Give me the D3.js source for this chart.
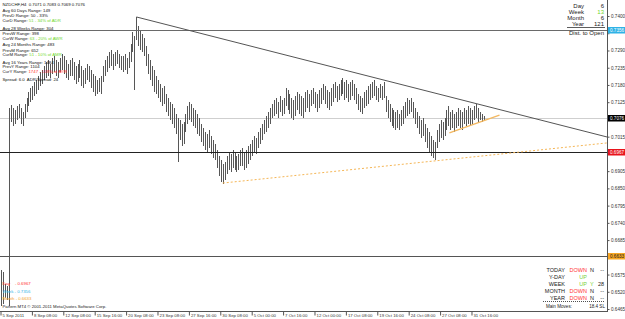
<!DOCTYPE html>
<html>
<head>
<meta charset="utf-8">
<script src="https://cdn.jsdelivr.net/npm/d3@7"></script>
<style>
body { margin: 0; background: #fff; }
text { font-family: "Liberation Sans", Arial, sans-serif; }
</style>
</head>
<body>
<svg id="chart" width="625" height="319"></svg>
<script>
// H4 bars, high / low per bar (NZDCHF, 5 Sep - 31 Oct 2011)
var highs = [
  0.6590,0.6583,0.6545,0.6539,0.7106,
  0.7116,0.7106,0.7100,0.7113,0.7119,0.7106,0.7094,0.7119,
  0.7138,0.7158,0.7170,0.7177,0.7189,
  0.7196,0.7209,0.7221,0.7228,0.7240,0.7253,0.7260,0.7247,
  0.7266,0.7272,0.7260,0.7253,0.7266,0.7279,0.7272,0.7260,0.7247,0.7260,
  0.7266,0.7253,0.7240,0.7247,0.7260,0.7240,0.7228,0.7234,0.7247,0.7240,
  0.7228,0.7215,0.7209,0.7196,0.7202,0.7209,
  0.7240,0.7260,0.7272,0.7285,0.7291,0.7279,0.7285,0.7291,0.7279,0.7272,
  0.7272,0.7279,0.7266,0.7285,0.7311,
  0.7349,0.7336,
  0.7397,
  0.7368,0.7355,0.7343,0.7330,
  0.7304,0.7279,0.7260,0.7240,0.7228,
  0.7209,0.7196,0.7183,0.7170,0.7177,
  0.7151,0.7138,0.7126,0.7119,0.7106,
  0.7087,0.7075,0.7068,0.7055,0.7062,
  0.7087,0.7113,0.7126,0.7119,0.7106,0.7100,0.7087,0.7075,
  0.7055,0.7043,0.7030,0.7024,0.7036,0.7017,0.7004,0.6992,
  0.6972,0.6953,0.6941,0.6928,0.6934,
  0.6953,0.6966,0.6960,0.6972,0.6966,0.6953,0.6960,0.6972,
  0.6979,0.6966,0.6972,0.6985,0.6992,
  0.7004,0.7017,0.7011,0.7030,0.7043,
  0.7055,0.7068,0.7081,0.7094,0.7106,
  0.7119,0.7132,0.7138,0.7126,0.7145,0.7132,0.7138,
  0.7170,0.7164,0.7151,0.7138,0.7132,0.7145,0.7158,0.7151,
  0.7145,0.7138,0.7158,0.7164,0.7151,0.7164,0.7170,0.7158,0.7151,0.7164,
  0.7170,0.7183,0.7177,0.7164,0.7158,0.7170,0.7183,0.7189,0.7177,0.7183,
  0.7196,0.7202,0.7189,0.7196,0.7183,0.7189,
  0.7196,0.7183,0.7170,
  0.7151,0.7145,0.7138,0.7158,
  0.7164,0.7177,0.7183,0.7189,0.7196,
  0.7177,0.7170,0.7183,0.7177,0.7189,
  0.7145,0.7132,0.7119,0.7106,0.7100,
  0.7094,0.7100,0.7087,0.7100,0.7113,
  0.7126,0.7138,0.7132,0.7138,0.7126,
  0.7106,0.7094,0.7081,0.7068,0.7075,
  0.7055,0.7043,0.7030,0.7017,0.7004,0.6998,
  0.7036,0.7055,0.7068,0.7062,0.7075,
  0.7100,0.7113,
  0.7094,0.7100,0.7087,0.7094,0.7106,0.7100,0.7094,0.7106,0.7100,0.7113,0.7106,0.7100,
  0.7113,0.7119,0.7106,
  0.7094,0.7087,0.7081
];
var lows = [
  0.6475,0.6481,0.6500,0.6494,0.6475,
  0.7062,0.7049,0.7055,0.7068,0.7075,0.7055,0.7049,0.7075,
  0.7094,0.7113,0.7126,0.7132,0.7145,
  0.7151,0.7164,0.7177,0.7183,0.7196,0.7202,0.7209,0.7202,
  0.7215,0.7221,0.7209,0.7202,0.7221,0.7228,0.7215,0.7202,0.7196,0.7209,
  0.7209,0.7196,0.7183,0.7189,0.7202,0.7177,0.7170,0.7183,0.7196,0.7189,
  0.7170,0.7158,0.7145,0.7151,0.7158,0.7151,
  0.7189,0.7209,0.7221,0.7234,0.7240,0.7228,0.7240,0.7247,0.7234,0.7228,
  0.7221,0.7228,0.7215,0.7234,0.7253,
  0.7285,0.7164,
  0.7323,
  0.7304,0.7291,0.7285,0.7272,
  0.7240,0.7215,0.7196,0.7177,0.7158,
  0.7151,0.7138,0.7126,0.7113,0.7119,
  0.7094,0.7081,0.7068,0.7055,0.7043,
  0.7024,0.6934,0.7004,0.6985,0.6992,
  0.7030,0.7055,0.7068,0.7062,0.7049,0.7043,0.7024,0.7017,
  0.6998,0.6985,0.6972,0.6966,0.6979,0.6960,0.6947,0.6941,
  0.6915,0.6890,0.6870,0.6864,0.6877,
  0.6896,0.6909,0.6902,0.6915,0.6909,0.6902,0.6909,0.6921,
  0.6921,0.6909,0.6915,0.6928,0.6941,
  0.6953,0.6966,0.6960,0.6979,0.6992,
  0.7004,0.7024,0.7030,0.7043,0.7055,
  0.7075,0.7081,0.7087,0.7075,0.7094,0.7081,0.7087,
  0.7113,0.7100,0.7087,0.7075,0.7068,0.7081,0.7100,0.7087,
  0.7081,0.7075,0.7094,0.7106,0.7094,0.7113,0.7119,0.7106,0.7094,0.7106,
  0.7119,0.7132,0.7119,0.7106,0.7100,0.7113,0.7126,0.7138,0.7126,0.7132,
  0.7145,0.7151,0.7132,0.7138,0.7126,0.7132,
  0.7145,0.7132,0.7119,
  0.7100,0.7094,0.7087,0.7106,
  0.7113,0.7119,0.7132,0.7138,0.7145,
  0.7132,0.7126,0.7138,0.7132,0.7138,
  0.7094,0.7075,0.7062,0.7049,0.7043,
  0.7036,0.7043,0.7036,0.7049,0.7055,
  0.7075,0.7081,0.7087,0.7094,0.7075,
  0.7055,0.7043,0.7024,0.7011,0.7017,
  0.6998,0.6979,0.6966,0.6953,0.6947,0.6941,
  0.6979,0.6998,0.7011,0.7004,0.7017,
  0.7036,0.7049,
  0.7036,0.7043,0.7030,0.7043,0.7049,0.7043,0.7036,0.7055,0.7049,0.7055,0.7049,0.7055,
  0.7068,0.7075,0.7062,
  0.7068,0.7062,0.7068
];
var lastClose = 0.7076;

var tickIndex = [0,16,32,48,64,80,96,112,128,144,160,176,192,208,224,240];
var tickLabels = ['5 Sep 2011','8 Sep 08:00','12 Sep 08:00','15 Sep 16:00','20 Sep 08:00',
  '23 Sep 08:00','27 Sep 16:00','30 Sep 08:00','5 Oct 00:00','7 Oct 16:00','12 Oct 00:00',
  '17 Oct 08:00','19 Oct 16:00','24 Oct 08:00','27 Oct 08:00','31 Oct 16:00'];
var priceTicks = [0.7400,0.7345,0.7290,0.7235,0.7180,0.7125,0.7070,0.7015,0.6960,
  0.6905,0.6850,0.6795,0.6740,0.6685,0.6630,0.6575,0.6520,0.6465];

// pivot levels
var levelNames = ['Day', 'Week', 'Month'];
var levelValues = [0.6967, 0.7356, 0.6633];
var levelColors = ['#ff3030', '#2fb2e6', '#f2a12a'];
var levelLine = ['#222', '#6a6a6a', '#555'];

// trend lines [bar index, price]
var resistLine = [[69, 0.7397], [308.8, 0.7014]];
var supportLine = [[113, 0.6867], [308.8, 0.6995]];
var shortLine = [[228.5, 0.7027], [254, 0.7084]];

var infoText = ['NZDCHF,H4  0.7071 0.7083 0.7069 0.7076', 'Avg 60 Days Range: 149', 'PrevD Range: 50 - 33%',
  'CurD Range: ', 'Avg 28 Weeks Range: 304', 'PrevW Range: 398', 'CurW Range: ',
  'Avg 24 Months Range: 483', 'PrevM Range: 652', 'CurM Range: ',
  'Avg 16 Years Range: 1484', 'PrevY Range: 1104', 'CurY Range: ', 'Spread: 6.0  ADR/Spread: 24'];
var infoExtra = ['', '', '', '51 - 34% of ADR', '', '', '63 - 20% of AWR', '', '', '51 - 10% of AMR',
  '', '', '1747 - 118% of AYR', ''];
var infoExtraColor = ['', '', '', '#6fd82c', '', '', '#6fd82c', '', '', '#6fd82c', '', '', '#ff3030', ''];
var infoY = [4, 10, 15.3, 20, 28.7, 33.3, 38, 44.7, 50, 54.7, 62, 66.7, 71.3, 79.3];

var countNames = ['Day', 'Week', 'Month', 'Year'];
var countValues = ['6', '13', '6', '121'];

var moveNames = ['TODAY', 'Y-DAY', 'WEEK', 'MONTH', 'YEAR'];
var moveDir = ['DOWN', 'UP', 'UP', 'DOWN', 'DOWN'];
var moveFlag = ['N', '', 'Y', 'N', 'N'];
var moveLast = ['--', '', '28', '--', '--'];

var plotR = 607, plotB = 311;
var svg = d3.select('#chart');

var x = d3.scaleLinear().domain([0, 308.8]).range([1, plotR]);
var y = d3.scaleLinear().domain([0.64587, 0.74511]).range([plotB, 0]);
function px(v) { return Math.round(x(v)) + 0.5; }
function py(v) { return Math.round(y(v)) + 0.5; }

// current price line
svg.append('line')
  .attr('x1', 0).attr('x2', plotR)
  .attr('y1', py(lastClose)).attr('y2', py(lastClose))
  .attr('stroke', '#cfcfcf').attr('stroke-width', 1);

// bars
svg.append('g').selectAll('line')
  .data(highs)
  .enter().append('line')
  .attr('x1', function (d, i) { return px(i); })
  .attr('x2', function (d, i) { return px(i); })
  .attr('y1', function (d) { return y(d); })
  .attr('y2', function (d, i) { return y(lows[i]); })
  .attr('stroke', '#575757')
  .attr('stroke-width', 1)
  .attr('shape-rendering', 'crispEdges');

// level lines
svg.append('g').selectAll('line')
  .data(levelValues)
  .enter().append('line')
  .attr('x1', 0).attr('x2', plotR)
  .attr('y1', function (d) { return py(d); })
  .attr('y2', function (d) { return py(d); })
  .attr('stroke', function (d, i) { return levelLine[i]; })
  .attr('stroke-width', 1);

var line = d3.line().x(function (d) { return x(d[0]); }).y(function (d) { return y(d[1]); });
svg.append('path').attr('d', line(resistLine)).attr('fill', 'none').attr('stroke', '#555').attr('stroke-width', 1);
svg.append('path').attr('d', line(supportLine)).attr('fill', 'none').attr('stroke', '#f5b656')
  .attr('stroke-width', 1).attr('stroke-dasharray', '2,2');
svg.append('path').attr('d', line(shortLine)).attr('fill', 'none').attr('stroke', '#f3b860').attr('stroke-width', 1.3);

// price boxes on the axis (they hide the tick labels beneath them)
var boxValues = [levelValues[1], lastClose, levelValues[0], levelValues[2]];
var boxFill = [levelColors[1], '#000', '#e8141c', '#f7a623'];
var boxText = ['#fff', '#fff', '#fff', '#222'];

function underBox(v) {
  return boxValues.some(function (b) { return Math.abs(y(b) - y(v)) < 5; });
}

// price axis
var yAxis = svg.append('g')
  .attr('transform', 'translate(' + (plotR + 0.5) + ',0)')
  .call(d3.axisRight(y).tickValues(priceTicks).tickSize(2).tickPadding(1.5).tickSizeOuter(0)
    .tickFormat(d3.format('.4f')));
yAxis.select('.domain').attr('stroke', '#555').attr('d', 'M0,0V' + (plotB + 1));
yAxis.selectAll('.tick line').attr('stroke', '#555');
yAxis.selectAll('text').attr('font-size', '4.6px').attr('fill', '#333')
  .attr('font-family', '"Liberation Sans", Arial, sans-serif');
yAxis.selectAll('.tick').filter(function (d) { return underBox(d); }).select('text').remove();

// time axis
var xAxis = svg.append('g')
  .attr('transform', 'translate(0,' + (plotB + 0.5) + ')')
  .call(d3.axisBottom(x).tickValues(tickIndex).tickSize(4).tickSizeOuter(0)
    .tickFormat(function (d, i) { return tickLabels[i]; }));
xAxis.select('.domain').attr('stroke', '#555').attr('d', 'M0,0H' + (plotR + 1));
xAxis.selectAll('.tick line').attr('stroke', '#555').attr('transform', 'translate(-0.5,0)');
xAxis.selectAll('text').attr('font-size', '4.3px').attr('fill', '#333')
  .attr('text-anchor', 'start').attr('x', 1).attr('y', 2).attr('dy', '0.71em')
  .attr('font-family', '"Liberation Sans", Arial, sans-serif');

var boxes = svg.append('g').selectAll('g')
  .data(boxValues)
  .enter().append('g')
  .attr('transform', function (d) { return 'translate(608,' + Math.round(y(d)) + ')'; });
boxes.append('rect').attr('x', 0).attr('y', -3).attr('width', 17).attr('height', 6.5)
  .attr('fill', function (d, i) { return boxFill[i]; });
boxes.append('text').attr('x', 2).attr('y', 2).attr('font-size', '4.6px')
  .attr('fill', function (d, i) { return boxText[i]; })
  .text(function (d) { return d3.format('.4f')(d); });

// top-left info
var info = svg.append('g').selectAll('text')
  .data(infoText)
  .enter().append('text')
  .attr('x', 2.5)
  .attr('y', function (d, i) { return infoY[i] + 1.6; })
  .attr('font-size', '4.3px')
  .attr('fill', '#111')
  .style('white-space', 'pre');
info.append('tspan').text(function (d) { return d; });
info.append('tspan')
  .attr('fill', function (d, i) { return infoExtraColor[i] || '#111'; })
  .text(function (d, i) { return infoExtra[i]; });

// top-right counters
var cnt = svg.append('g');
cnt.selectAll('text.name').data(countNames).enter().append('text')
  .attr('x', 584).attr('y', function (d, i) { return 8 + i * 6.1; })
  .attr('text-anchor', 'end').attr('font-size', '6px').attr('fill', '#222')
  .text(function (d) { return d; });
cnt.selectAll('text.val').data(countValues).enter().append('text')
  .attr('x', 604).attr('y', function (d, i) { return 8 + i * 6.1; })
  .attr('text-anchor', 'end').attr('font-size', '6px')
  .attr('fill', function (d, i) { return i === 1 ? '#6fd82c' : '#222'; })
  .text(function (d) { return d; });
cnt.append('line').attr('x1', 567).attr('x2', 605).attr('y1', 27.5).attr('y2', 27.5)
  .attr('stroke', '#333').attr('stroke-width', 0.8);
cnt.append('text').attr('x', 604).attr('y', 34.5).attr('text-anchor', 'end')
  .attr('font-size', '6px').attr('fill', '#222').text('Dist. to Open');

// bottom-right moves
var mv = svg.append('g');
var rowY = function (i) { return 272.3 + i * 6.8; };
mv.selectAll('text.n').data(moveNames).enter().append('text')
  .attr('x', 565).attr('y', function (d, i) { return rowY(i); })
  .attr('text-anchor', 'end').attr('font-size', '5.5px').attr('fill', '#222')
  .text(function (d) { return d; });
mv.selectAll('text.d').data(moveDir).enter().append('text')
  .attr('x', 587).attr('y', function (d, i) { return rowY(i); })
  .attr('text-anchor', 'end').attr('font-size', '5.5px')
  .attr('fill', function (d) { return d === 'UP' ? '#7ad13a' : '#ff3434'; })
  .text(function (d) { return d; });
mv.selectAll('text.f').data(moveFlag).enter().append('text')
  .attr('x', 590).attr('y', function (d, i) { return rowY(i); })
  .attr('font-size', '5.5px')
  .attr('fill', function (d) { return d === 'Y' ? '#7ad13a' : '#222'; })
  .text(function (d) { return d; });
mv.selectAll('text.l').data(moveLast).enter().append('text')
  .attr('x', 604).attr('y', function (d, i) { return rowY(i); })
  .attr('text-anchor', 'end').attr('font-size', '5.5px').attr('fill', '#222')
  .text(function (d) { return d; });
mv.append('line').attr('x1', 543).attr('x2', 605).attr('y1', 301.5).attr('y2', 301.5)
  .attr('stroke', '#222').attr('stroke-width', 0.8).attr('stroke-dasharray', '1,1');
mv.append('text').attr('x', 572).attr('y', 307.6).attr('text-anchor', 'end')
  .attr('font-size', '4.6px').attr('fill', '#222').text('Main Moves:');
mv.append('text').attr('x', 605).attr('y', 307.6).attr('text-anchor', 'end')
  .attr('font-size', '4.6px').attr('fill', '#222').text('18.4 SL');

// bottom-left level legend
svg.append('g').selectAll('text')
  .data(levelNames)
  .enter().append('text')
  .attr('x', 2.5)
  .attr('y', function (d, i) { return [284.8, 292.5, 299.8][i]; })
  .attr('font-size', '4.3px')
  .attr('fill', function (d, i) { return levelColors[i]; })
  .style('white-space', 'pre')
  .text(function (d, i) { return (d === 'Day' ? 'Day    ' : d + ' ') + '- ' + d3.format('.4f')(levelValues[i]); });

svg.append('text').attr('x', 2.5).attr('y', 307.5).attr('font-size', '4.3px').attr('fill', '#222')
  .text('Pattern MT4 \u00a9 2001-2011 MetaQuotes Software Corp.');
</script>
</body>
</html>
